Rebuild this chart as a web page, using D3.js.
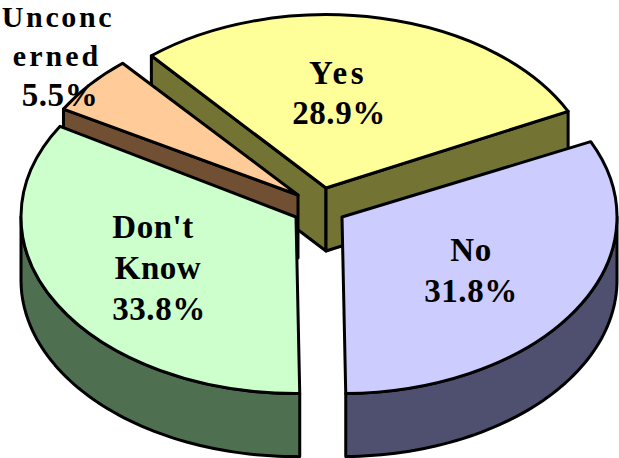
<!DOCTYPE html>
<html>
<head>
<meta charset="utf-8">
<script src="https://cdnjs.cloudflare.com/ajax/libs/d3/7.8.5/d3.min.js"></script>
<style>
  html, body { margin: 0; padding: 0; background: #fff; overflow: hidden; }
  svg { display: block; }
  .top, .side { stroke: #000; stroke-width: 3px; stroke-linejoin: round; }
  .top { vector-effect: non-scaling-stroke; }
  text { font-family: "Liberation Serif", serif; font-weight: bold; fill: #000; text-anchor: middle; }
</style>
</head>
<body>
<script>
var categories = ["Yes", "No", "Don't Know", "Unconcerned"];
var shares = [28.9, 31.8, 33.8, 5.5];
var shareLabels = ["28.9%", "31.8%", "33.8%", "5.5%"];

// how the category names wrap in the picture
var nameLines = [["Yes"], ["No"], ["Don't", "Know"], ["Unconc", "erned"]];

var topColors = ["#FFFF99", "#CCCCFF", "#CCFFCC", "#FFCC99"];
var sideColors = ["#737333", "#4F4F6F", "#4F7050", "#704F33"];

// layout: tip, radius and small rotation of each exploded slice
var tips = [[326, 188], [342, 217], [296, 217], [298, 195]];
var radii = [270, 275, 275, 270];
var turnDeg = [-1, 0, 0, -1.2];

// layout of the label rows: x, baseline, size, letter spacing
var labelRows = [
  [[338, 84, 33, 3.5], [339, 124, 33, 0.6]],
  [[471, 261, 33, 0.5], [471, 302, 33, 0.6]],
  [[153, 238, 33, 0.5], [158, 279, 33, 0.5], [159, 320, 33, 0.6]],
  [[58, 27, 30, 2.6], [57, 66, 30, 3], [60, 106, 33, 0.6]]
];

var width = 619,
    height = 458,
    squash = 0.642,
    depth = 63,
    startDeg = -39.3;

var svg = d3.select("body").append("svg")
    .attr("width", width)
    .attr("height", height);

var pie = d3.pie().sort(null)
    .startAngle(startDeg * Math.PI / 180)
    .endAngle(startDeg * Math.PI / 180 + 2 * Math.PI);

var arcs = pie(shares).map(function(d, i) {
  var turn = turnDeg[i] * Math.PI / 180;
  return {startAngle: d.startAngle + turn, endAngle: d.endAngle + turn};
});

var arc = d3.arc().innerRadius(0);
var line = d3.line();

// point on the rim of slice i, dropped by dz
function rim(i, a, dz) {
  return [tips[i][0] + radii[i] * Math.sin(a),
          tips[i][1] - radii[i] * squash * Math.cos(a) + (dz || 0)];
}

function cutFace(i, a) {
  var t = tips[i];
  return line([t, rim(i, a), rim(i, a, depth), [t[0], t[1] + depth]]) + "Z";
}

// cylinder wall below the rim, between two angles
function wall(i, a0, a1) {
  var up = d3.range(0, 61).map(function(k) {
    return rim(i, a0 + (a1 - a0) * k / 60);
  });
  var down = up.map(function(p) { return [p[0], p[1] + depth]; }).reverse();
  return line(up.concat(down)) + "Z";
}

// painter's order, back to front
var order = [0, 3, 2, 1];

order.forEach(function(i) {
  var d = arcs[i];
  var g = svg.append("g");
  var sides = [];

  // a cut face shows only when it turns toward the viewer
  if (Math.sin(d.startAngle) < 0) sides.push(cutFace(i, d.startAngle));
  if (Math.sin(d.endAngle) > 0 && i === 0) sides.push(cutFace(i, d.endAngle));

  // front part of the rim, angles between 90 and 270 degrees
  var lo = Math.max(d.startAngle, Math.PI / 2),
      hi = Math.min(d.endAngle, 3 * Math.PI / 2);
  if (lo < hi) sides.push(wall(i, lo, hi));

  g.selectAll("path.side")
    .data(sides)
    .enter().append("path")
      .attr("class", "side")
      .attr("d", function(p) { return p; })
      .attr("fill", sideColors[i]);

  g.append("path")
      .attr("class", "top")
      .attr("transform", "translate(" + tips[i][0] + "," + tips[i][1] + ") scale(1," + squash + ")")
      .attr("d", arc.outerRadius(radii[i])(d))
      .attr("fill", topColors[i]);
});

categories.forEach(function(name, i) {
  var rows = nameLines[i].concat([shareLabels[i]]);
  svg.append("g").attr("class", "label").selectAll("text")
    .data(rows)
    .enter().append("text")
      .attr("x", function(r, k) { return labelRows[i][k][0]; })
      .attr("y", function(r, k) { return labelRows[i][k][1]; })
      .style("font-size", function(r, k) { return labelRows[i][k][2] + "px"; })
      .style("letter-spacing", function(r, k) { return labelRows[i][k][3] + "px"; })
      .text(function(r) { return r; });
});
</script>
</body>
</html>
